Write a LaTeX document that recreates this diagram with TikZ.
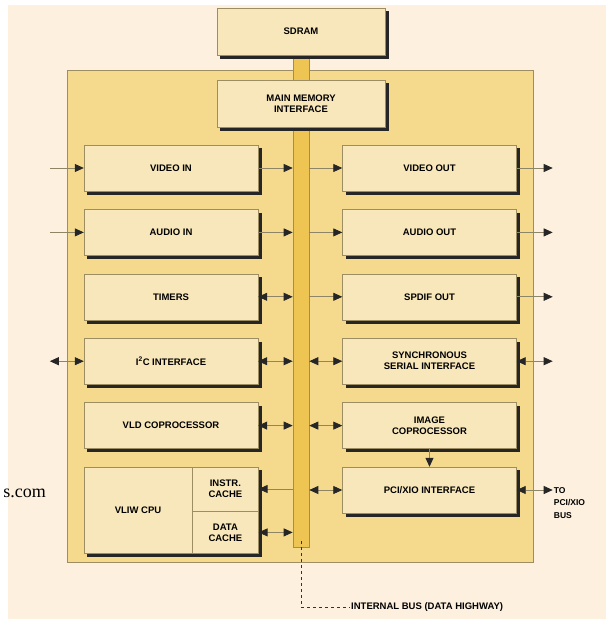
\documentclass[tikz,border=0pt]{standalone}
\usepackage{fontspec}
\setmainfont{Liberation Sans}
\newfontfamily\webfont{Liberation Serif}
\usepackage{xcolor}
\usepackage{tikz}
\usetikzlibrary{arrows.meta,positioning,fit,backgrounds}

\definecolor{paper}{HTML}{FDF0DF}
\definecolor{panel}{HTML}{F5DA8E}
\definecolor{boxfill}{HTML}{F8E7BA}
\definecolor{busfill}{HTML}{EEC552}
\definecolor{edge}{HTML}{9C8E62}
\definecolor{wire}{HTML}{8E8466}

\begin{document}
\begin{tikzpicture}[
    x=1pt, y=-1pt,
    node distance=18pt,
    font=\bfseries\fontsize{9.5}{11}\selectfont,
    block/.style={rectangle, draw=edge, fill=boxfill, minimum width=174pt, minimum height=46pt, align=center, inner sep=1pt},
    part/.style={rectangle, draw=edge, fill=boxfill, align=center, inner sep=1pt},
    arrow/.style={-{Triangle[length=9pt, width=8pt, color=black!85]}, draw=wire, line width=0.8pt},
    both/.style={{Triangle[length=9pt, width=8pt, color=black!85]}-{Triangle[length=9pt, width=8pt, color=black!85]}, draw=wire, line width=0.8pt}
]
    \begin{scope}[on background layer]
        \fill[white] (0,0) rectangle (606,619);
        \fill[paper] (8,5) rectangle (606,619);
        \node[draw=edge, fill=panel, line width=0.8pt, minimum width=466pt, minimum height=492pt, inner sep=0pt] (chip) at (300,316) {};
        \node[draw=edge, fill=busfill, line width=0.6pt, minimum width=16pt, minimum height=492pt, inner sep=0pt] (bus) at (301,301) {};
    \end{scope}

    \node[block, minimum width=168pt, minimum height=47pt] (sdram) at (301,31.5) {SDRAM};
    \node[block, minimum width=168pt, minimum height=47pt] (mmi) at (301,103.5) {MAIN MEMORY\\INTERFACE};

    \node[block] (vin) at (171,168) {VIDEO IN};
    \node[block, below=of vin] (ain) {AUDIO IN};
    \node[block, below=of ain] (tmr) {TIMERS};
    \node[block, below=of tmr] (iic) {I\textsuperscript{2}C INTERFACE};
    \node[block, below=of iic] (vld) {VLD COPROCESSOR};
    \node[part, minimum width=108pt, minimum height=86pt, anchor=north west] (cpu) at ([yshift=-18pt]vld.south west) {VLIW CPU};
    \node[part, minimum width=66pt, minimum height=44pt, anchor=north west] (icache) at (cpu.north east) {INSTR.\\CACHE};
    \node[part, minimum width=66pt, minimum height=42pt, anchor=north west] (dcache) at (icache.south west) {DATA\\CACHE};
    \node[fit=(cpu)(icache)(dcache), inner sep=0pt] (cpugroup) {};

    \node[block] (vout) at (429.5,168) {VIDEO OUT};
    \node[block, below=of vout] (aout) {AUDIO OUT};
    \node[block, below=of aout] (spdif) {SPDIF OUT};
    \node[block, below=of spdif] (ssi) {SYNCHRONOUS\\SERIAL INTERFACE};
    \node[block, below=of ssi] (imgc) {IMAGE\\COPROCESSOR};
    \node[block, below=of imgc] (pci) {PCI/XIO INTERFACE};

    \begin{scope}[on background layer]
        \foreach \b in {sdram,mmi,vin,ain,tmr,iic,vld,cpugroup,vout,aout,spdif,ssi,imgc,pci}
            \fill[black!85] ([xshift=3.5pt, yshift=-3.5pt]\b.south west) rectangle ([xshift=3.5pt, yshift=-3.5pt]\b.north east);
    \end{scope}

    \coordinate[left=34pt of vin.west] (vsrc);
    \coordinate[left=34pt of ain.west] (asrc);
    \coordinate[left=34pt of iic.west] (iicext);
    \coordinate[right=36pt of vout.east] (vsink);
    \coordinate[right=36pt of aout.east] (asink);
    \coordinate[right=36pt of spdif.east] (ssink);
    \coordinate[right=36pt of ssi.east] (ssiext);
    \node[right=36pt of pci.east, yshift=-13pt, align=left, inner sep=1pt, font=\bfseries\fontsize{8.5}{12.5}\selectfont] (tobus) {TO\\PCI/XIO\\BUS};
    \node[anchor=west, inner sep=1pt] (ibus) at (350,607) {INTERNAL BUS (DATA HIGHWAY)};
    \node[anchor=base east, inner sep=0pt, font=\webfont\fontsize{18}{18}\selectfont] (web) at (46,497) {s.com};

    \draw[arrow] (vsrc) -- (vin.west);
    \draw[arrow] (asrc) -- (ain.west);
    \draw[both] (iicext) -- (iic.west);
    \draw[arrow] (vout.east) -- (vsink);
    \draw[arrow] (aout.east) -- (asink);
    \draw[arrow] (spdif.east) -- (ssink);
    \draw[both] (ssi.east) -- (ssiext);
    \draw[both] (pci.east) -- (pci.east -| tobus.west);

    \draw[arrow] (vin.east) -- (vin.east -| bus.west);
    \draw[arrow] (ain.east) -- (ain.east -| bus.west);
    \draw[both] (tmr.east) -- (tmr.east -| bus.west);
    \draw[both] (iic.east) -- (iic.east -| bus.west);
    \draw[both] (vld.east) -- (vld.east -| bus.west);
    \draw[arrow] (icache.east -| bus.west) -- (icache.east);
    \draw[both] (dcache.east) -- (dcache.east -| bus.west);

    \draw[arrow] (vout.west -| bus.east) -- (vout.west);
    \draw[arrow] (aout.west -| bus.east) -- (aout.west);
    \draw[arrow] (spdif.west -| bus.east) -- (spdif.west);
    \draw[both] (ssi.west -| bus.east) -- (ssi.west);
    \draw[both] (imgc.west -| bus.east) -- (imgc.west);
    \draw[both] (pci.west -| bus.east) -- (pci.west);
    \draw[arrow] (imgc) -- (pci);

    \draw[dashed, line width=0.7pt, black!80] ([yshift=6pt]bus.south) |- (ibus.west);
\end{tikzpicture}
\end{document}
